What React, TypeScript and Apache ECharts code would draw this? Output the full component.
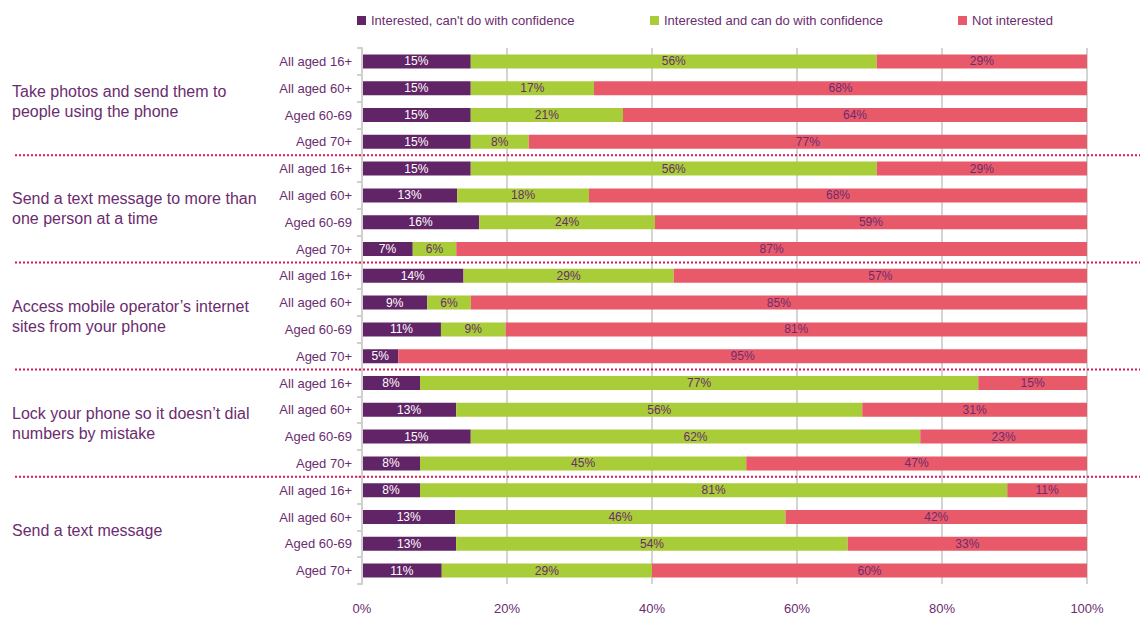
import React, { useEffect, useRef } from "react";
import * as echarts from "echarts";

const rowLabels = [
  "All aged 16+", "All aged 60+", "Aged 60-69", "Aged 70+",
  "All aged 16+", "All aged 60+", "Aged 60-69", "Aged 70+",
  "All aged 16+", "All aged 60+", "Aged 60-69", "Aged 70+",
  "All aged 16+", "All aged 60+", "Aged 60-69", "Aged 70+",
  "All aged 16+", "All aged 60+", "Aged 60-69", "Aged 70+",
];

const groupLabels = [
  "Take photos and send them to\npeople using the phone",
  "Send a text message to more than\none person at a time",
  "Access mobile operator\u2019s internet\nsites from your phone",
  "Lock your phone so it doesn\u2019t dial\nnumbers by mistake",
  "Send a text message",
];

const seriesNames = [
  "Interested, can't do with confidence",
  "Interested and can do with confidence",
  "Not interested",
];

const cantDo = [15, 15, 15, 15, 15, 13, 16, 7, 14, 9, 11, 5, 8, 13, 15, 8, 8, 13, 13, 11];
const canDo = [56, 17, 21, 8, 56, 18, 24, 6, 29, 6, 9, 0, 77, 56, 62, 45, 81, 46, 54, 29];
const notInterested = [29, 68, 64, 77, 29, 68, 59, 87, 57, 85, 81, 95, 15, 31, 23, 47, 11, 42, 33, 60];

const xTicks = [0, 20, 40, 60, 80, 100];

const colors = ["#612466", "#a8cd38", "#e85a6a"];
const textPurple = "#6b2c6f";
const FONT = "'Liberation Sans', Arial, sans-serif";

export default function App() {
  const ref = useRef<HTMLDivElement>(null);

  useEffect(() => {
    document.body.style.margin = "0";
    if (!ref.current) return;
    const chart = echarts.init(ref.current, null, { renderer: "svg" });

    const raw = [cantDo, canDo, notInterested];
    const totals = rowLabels.map((_, i) => cantDo[i] + canDo[i] + notInterested[i]);

    const gridTop = 48;
    const gridHeight = 536;
    const gridLeft = 362;
    const gridRight = 53;
    const band = gridHeight / rowLabels.length;

    const separators = [1, 2, 3, 4].map((k) => ({
      type: "line",
      shape: { x1: 15, y1: gridTop + k * 4 * band, x2: 1140, y2: gridTop + k * 4 * band },
      style: { stroke: "#d6195a", lineWidth: 2, lineDash: [2, 2] },
      z: 10,
    }));

    const legendLefts = [352, 645, 953];

    chart.setOption({
      animation: false,
      textStyle: { fontFamily: FONT },
      legend: seriesNames.map((n, i) => ({
        data: [n],
        left: legendLefts[i],
        top: 9,
        itemWidth: 9,
        itemHeight: 9,
        itemGap: 5,
        icon: "rect",
        textStyle: { color: textPurple, fontSize: 13, fontFamily: FONT },
        selectedMode: false,
      })),
      grid: { left: gridLeft, right: gridRight, top: gridTop, height: gridHeight },
      xAxis: {
        type: "value",
        min: 0,
        max: 100,
        interval: 20,
        axisLine: { show: false },
        axisTick: { show: false },
        splitLine: { show: true, lineStyle: { color: "#d4d4d4", width: 2 } },
        axisLabel: {
          margin: 18,
          color: textPurple,
          fontSize: 13,
          fontFamily: FONT,
          formatter: (v: number) => (xTicks.includes(v) ? v + "%" : ""),
        },
      },
      yAxis: [
        {
          type: "category",
          data: rowLabels,
          inverse: true,
          axisLine: { show: true, lineStyle: { color: "#d0d0d0", width: 2 } },
          axisTick: { show: true, length: 5, interval: 0, lineStyle: { color: "#d0d0d0", width: 2 } },
          axisLabel: { color: textPurple, fontSize: 13, margin: 10, interval: 0, fontFamily: FONT },
          z: 5,
        },
        {
          type: "category",
          data: groupLabels,
          inverse: true,
          position: "left",
          offset: 0,
          axisLine: { show: false },
          axisTick: { show: false },
          axisLabel: {
            color: textPurple,
            fontSize: 16,
            lineHeight: 20,
            align: "left",
            margin: gridLeft - 12,
            interval: 0,
            fontFamily: FONT,
          },
        },
      ],
      series: seriesNames.map((name, s) => ({
        name,
        type: "bar",
        stack: "total",
        yAxisIndex: 0,
        barWidth: 14,
        itemStyle: { color: colors[s] },
        data: raw[s].map((v, i) => ({ value: (v / totals[i]) * 100, raw: v })),
        label: {
          show: true,
          position: "inside",
          color: s === 0 ? "#ffffff" : textPurple,
          fontSize: 12,
          fontFamily: FONT,
          formatter: (p: any) => (p.data.raw > 0 ? p.data.raw + "%" : ""),
        },
      })),
      graphic: separators,
    });

    return () => chart.dispose();
  }, []);

  return <div ref={ref} style={{ width: 1140, height: 619 }} />;
}
